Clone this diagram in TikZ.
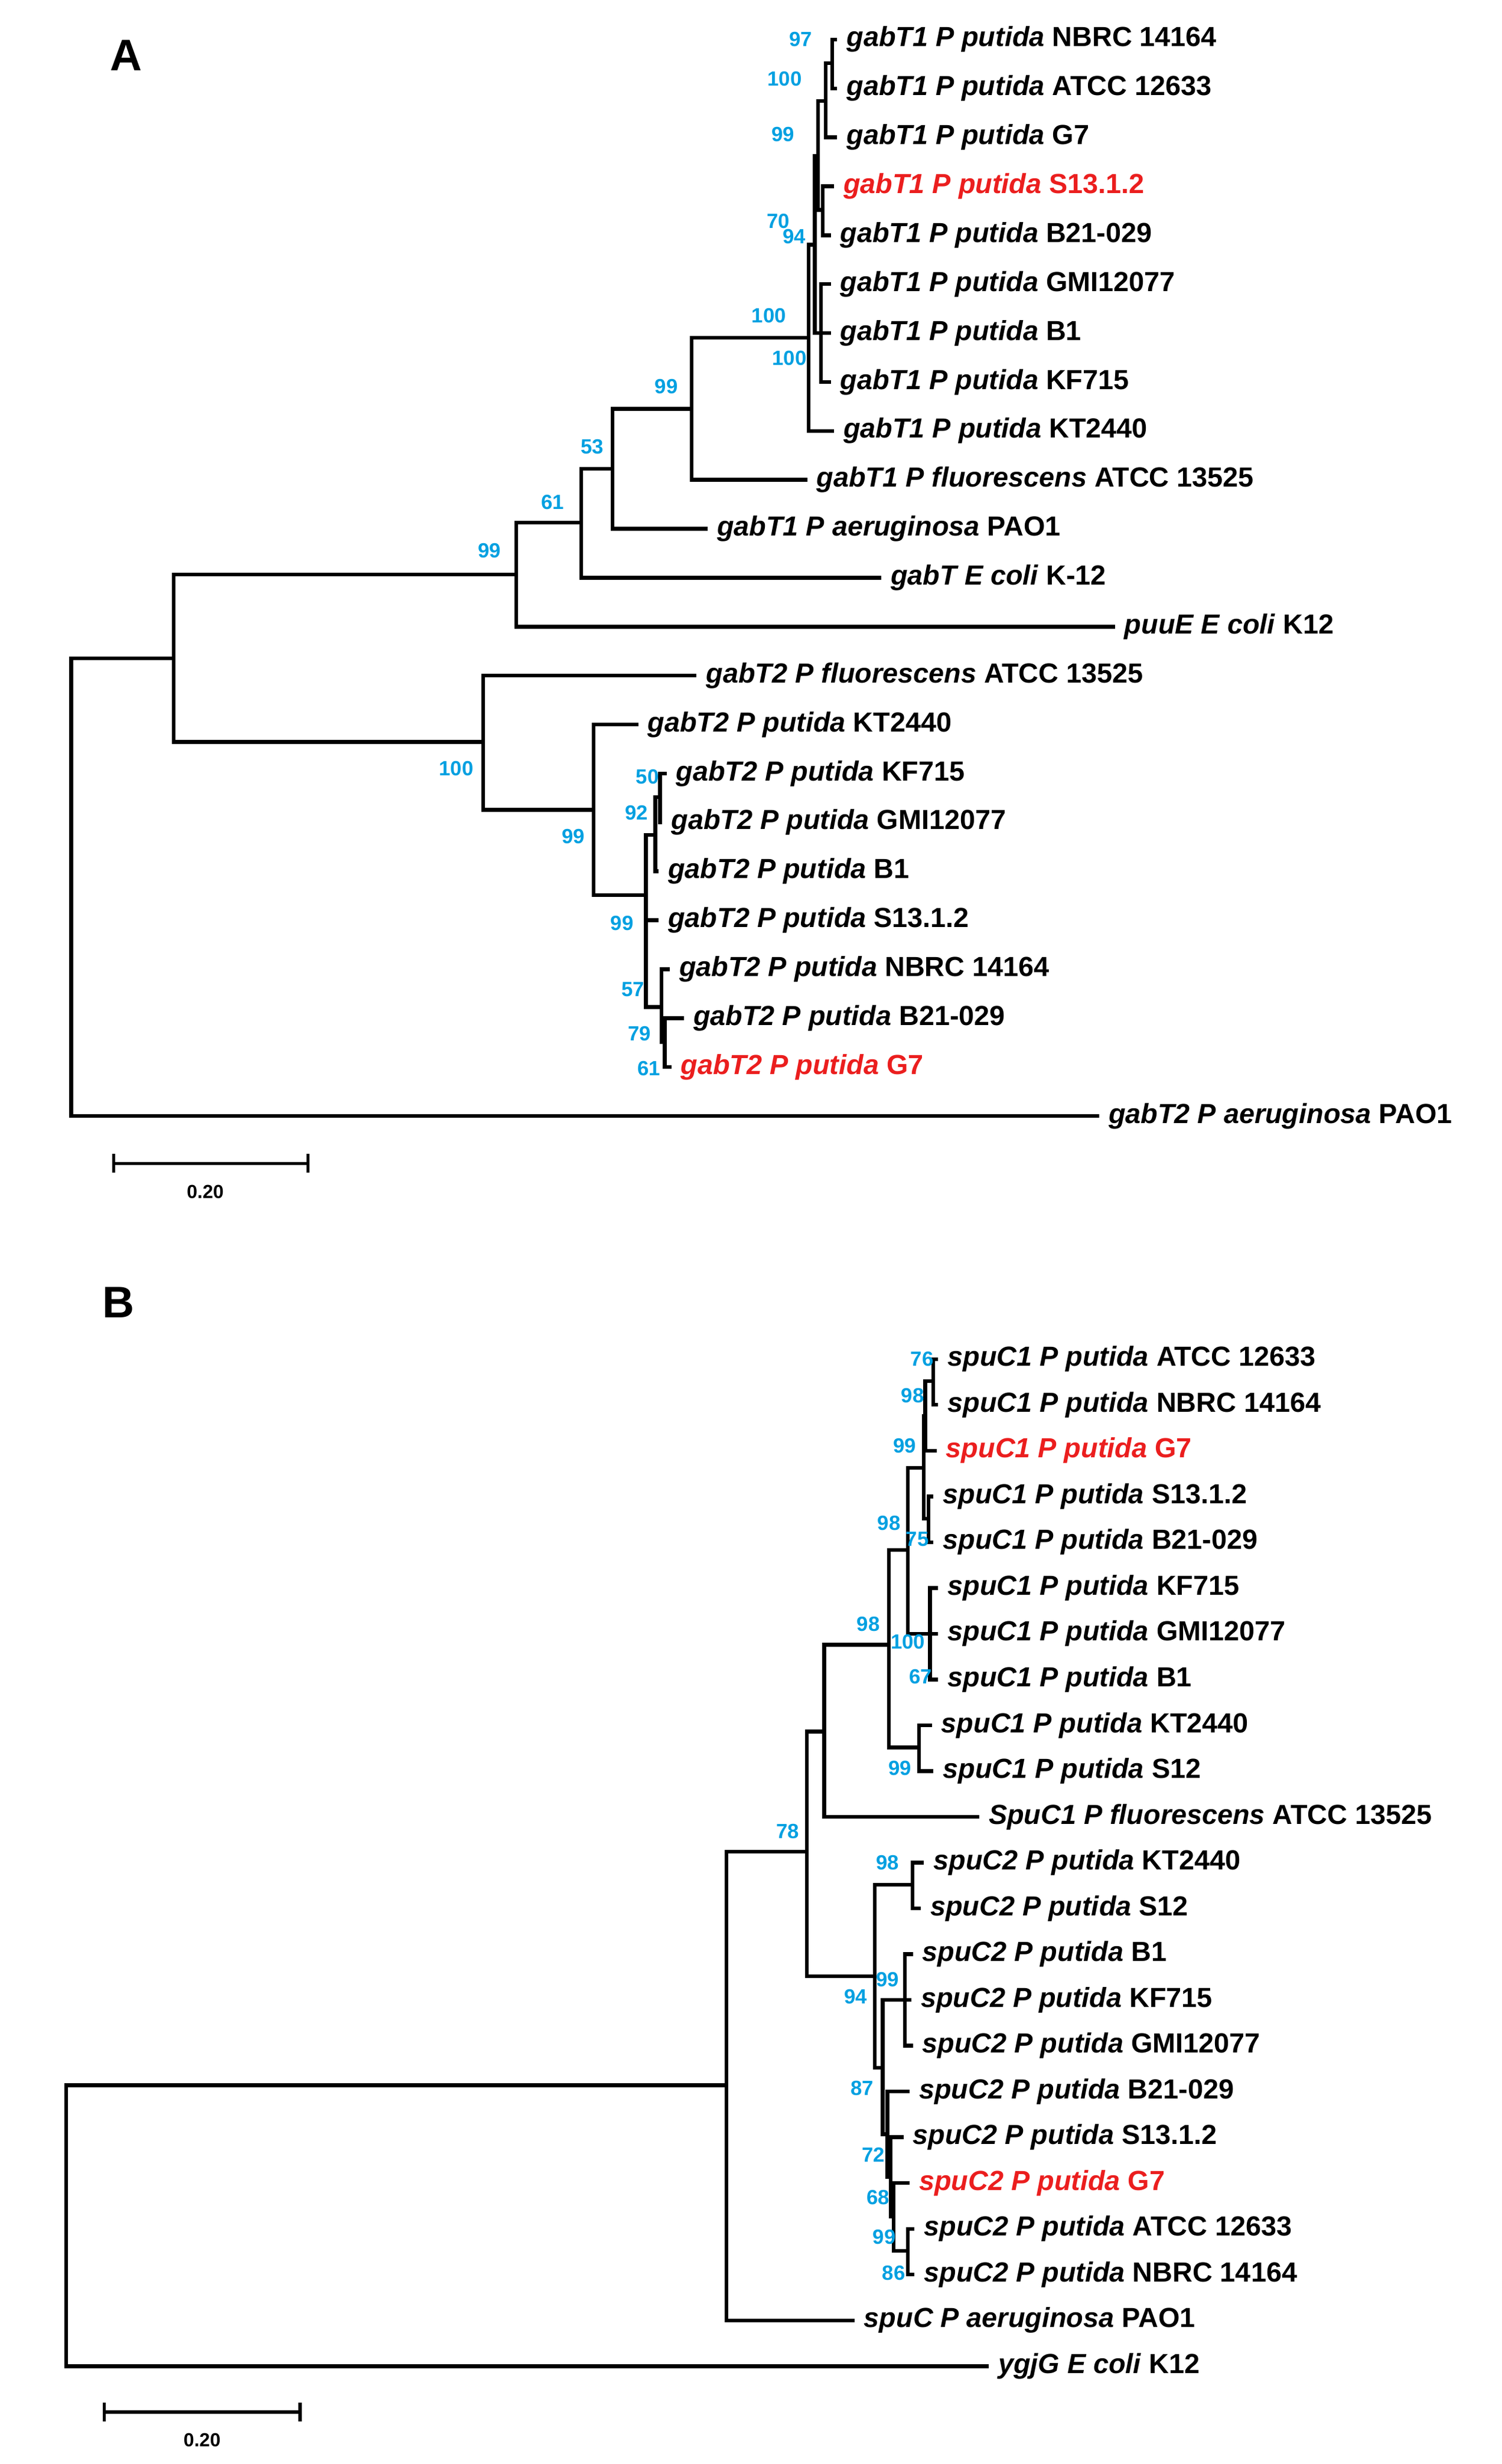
\documentclass[tikz,border=0pt]{standalone}
\usepackage{fontspec}
\usetikzlibrary{calc}
\setmainfont{Liberation Sans}
\definecolor{bscol}{RGB}{0,160,225}
\definecolor{redlab}{RGB}{235,30,30}
\tikzset{br/.style={line width=2.4pt,line cap=rect},
  lab/.style={font=\fontsize{17.5}{19}\selectfont\bfseries,inner sep=0pt,xshift=6pt},
  bs/.style={font=\fontsize{13}{14}\selectfont\bfseries,text=bscol,inner sep=0pt}}
\newcommand\tip[7]{\draw[br] (#2,#4) -- (#3,#4) node[lab,text=#5,anchor=west] (#1) {\textit{#6} #7};}
\begin{document}
\begin{tikzpicture}[x=1pt,y=-1pt]
\useasboundingbox[fill=white] (0,0) rectangle (951,1561);
\node[font=\fontsize{28}{30}\selectfont\bfseries] (pA) at (80,35) {A};
\node[font=\fontsize{28}{30}\selectfont\bfseries] (pB) at (75,825) {B};
% ---------- Tree A
\draw[br] (527,25)--(527,56);
\tip{a1}{527}{529}{25}{black}{gabT1 P putida}{NBRC 14164}
\tip{a2}{527}{529}{56}{black}{gabT1 P putida}{ATCC 12633}
\draw[br] (523,40)--(523,87) (523,40)--(527,40);
\tip{a3}{523}{529}{87}{black}{gabT1 P putida}{G7}
\draw[br] (521,118)--(521,149);
\tip{a4}{521}{527}{118}{redlab}{gabT1 P putida}{S13.1.2}
\tip{a5}{521}{525}{149}{black}{gabT1 P putida}{B21-029}
\draw[br] (518,64)--(518,133) (518,64)--(523,64) (518,133)--(521,133);
\draw[br] (520,180)--(520,242);
\tip{a6}{520}{525}{180}{black}{gabT1 P putida}{GMI12077}
\tip{a7}{520}{525}{211}{black}{gabT1 P putida}{B1}
\tip{a8}{520}{525}{242}{black}{gabT1 P putida}{KF715}
\draw[br] (516,99)--(516,211) (516,99)--(518,99) (516,211)--(520,211);
\draw[br] (512,155)--(512,273) (512,155)--(516,155);
\tip{a9}{512}{527}{273}{black}{gabT1 P putida}{KT2440}
\draw[br] (438,214)--(438,304) (438,214)--(512,214);
\tip{a10}{438}{510}{304}{black}{gabT1 P fluorescens}{ATCC 13525}
\draw[br] (388,259)--(388,335) (388,259)--(438,259);
\tip{a11}{388}{447}{335}{black}{gabT1 P aeruginosa}{PAO1}
\draw[br] (368,297)--(368,366) (368,297)--(388,297);
\tip{a12}{368}{557}{366}{black}{gabT E coli}{K-12}
\draw[br] (327,331)--(327,397) (327,331)--(368,331);
\tip{a13}{327}{705}{397}{black}{puuE E coli}{K12}
\draw[br] (110,364)--(110,470) (110,364)--(327,364) (110,470)--(306,470);
\draw[br] (45,417)--(45,707) (45,417)--(110,417);
\tip{a23}{45}{695}{707}{black}{gabT2 P aeruginosa}{PAO1}
\draw[br] (306,428)--(306,513) (306,513)--(376,513);
\tip{a14}{306}{440}{428}{black}{gabT2 P fluorescens}{ATCC 13525}
\draw[br] (376,459)--(376,567) (376,567)--(409,567);
\tip{a15}{376}{403}{459}{black}{gabT2 P putida}{KT2440}
\draw[br] (409,529)--(409,638) (409,529)--(415,529) (409,638)--(419,638);
\tip{a19}{409}{416}{583}{black}{gabT2 P putida}{S13.1.2}
\draw[br] (415,505)--(415,552) (415,505)--(418,505);
\tip{a18}{415}{416}{552}{black}{gabT2 P putida}{B1}
\draw[br] (418,490)--(418,521);
\tip{a16}{418}{421}{490}{black}{gabT2 P putida}{KF715}
\tip{a17}{418}{418}{521}{black}{gabT2 P putida}{GMI12077}
\draw[br] (419,614)--(419,660) (419,660)--(421,660);
\tip{a20}{419}{423}{614}{black}{gabT2 P putida}{NBRC 14164}
\draw[br] (421,645)--(421,676);
\tip{a21}{421}{432}{645}{black}{gabT2 P putida}{B21-029}
\tip{a22}{421}{424}{676}{redlab}{gabT2 P putida}{G7}
% bootstraps A
\node[bs] (ba1) at (507,25) {97};
\node[bs] (ba2) at (497,50) {100};
\node[bs] (ba3) at (496,85) {99};
\node[bs] (ba4) at (493,140) {70};
\node[bs] (ba5) at (503,150) {94};
\node[bs] (ba6) at (487,200) {100};
\node[bs] (ba7) at (500,227) {100};
\node[bs] (ba8) at (422,245) {99};
\node[bs] (ba9) at (375,283) {53};
\node[bs] (ba10) at (350,318) {61};
\node[bs] (ba11) at (310,349) {99};
\node[bs] (ba12) at (289,487) {100};
\node[bs] (ba13) at (363,530) {99};
\node[bs] (ba14) at (410,492) {50};
\node[bs] (ba15) at (403,515) {92};
\node[bs] (ba16) at (394,585) {99};
\node[bs] (ba17) at (401,627) {57};
\node[bs] (ba18) at (405,655) {79};
\node[bs] (ba19) at (411,677) {61};
% scale A
\coordinate (sa1) at (72,737); \coordinate (sa2) at (195,737);
\draw[line width=2pt] (sa1)--(sa2) ($(sa1)+(0,-6)$)--($(sa1)+(0,6)$) ($(sa2)+(0,-6)$)--($(sa2)+(0,6)$);
\node[font=\fontsize{12}{13}\selectfont\bfseries] (sla) at (130,755) {0.20};
% ---------- Tree B
\draw[br] (591,861)--(591,890);
\tip{b1}{591}{593}{861}{black}{spuC1 P putida}{ATCC 12633}
\tip{b2}{591}{593}{890}{black}{spuC1 P putida}{NBRC 14164}
\draw[br] (586,875)--(586,919) (586,875)--(591,875);
\tip{b3}{586}{592}{919}{redlab}{spuC1 P putida}{G7}
\draw[br] (588,948)--(588,977);
\tip{b4}{588}{590}{948}{black}{spuC1 P putida}{S13.1.2}
\tip{b5}{588}{590}{977}{black}{spuC1 P putida}{B21-029}
\draw[br] (585,897)--(585,962) (585,897)--(586,897) (585,962)--(588,962);
\draw[br] (589,1006)--(589,1064);
\tip{b6}{589}{593}{1006}{black}{spuC1 P putida}{KF715}
\tip{b7}{589}{593}{1035}{black}{spuC1 P putida}{GMI12077}
\tip{b8}{589}{593}{1064}{black}{spuC1 P putida}{B1}
\draw[br] (575,930)--(575,1035) (575,930)--(585,930) (575,1035)--(589,1035);
\draw[br] (582,1093)--(582,1122);
\tip{b9}{582}{589}{1093}{black}{spuC1 P putida}{KT2440}
\tip{b10}{582}{590}{1122}{black}{spuC1 P putida}{S12}
\draw[br] (563,982)--(563,1107) (563,982)--(575,982) (563,1107)--(582,1107);
\draw[br] (522,1042)--(522,1151) (522,1042)--(563,1042);
\tip{b11}{522}{619}{1151}{black}{SpuC1 P fluorescens}{ATCC 13525}
\draw[br] (511,1097)--(511,1252) (511,1097)--(522,1097) (511,1252)--(554,1252);
\draw[br] (578,1180)--(578,1209) (554,1194)--(578,1194);
\tip{b12}{578}{584}{1180}{black}{spuC2 P putida}{KT2440}
\tip{b13}{578}{582}{1209}{black}{spuC2 P putida}{S12}
\draw[br] (554,1194)--(554,1310) (554,1310)--(559,1310);
\draw[br] (559,1267)--(559,1352) (559,1267)--(573,1267) (559,1352)--(562,1352);
\draw[br] (573,1238)--(573,1296);
\tip{b14}{573}{577}{1238}{black}{spuC2 P putida}{B1}
\tip{b15}{573}{576}{1267}{black}{spuC2 P putida}{KF715}
\tip{b16}{573}{577}{1296}{black}{spuC2 P putida}{GMI12077}
\draw[br] (562,1325)--(562,1379) (562,1379)--(564,1379);
\tip{b17}{562}{575}{1325}{black}{spuC2 P putida}{B21-029}
\draw[br] (564,1354)--(564,1404) (564,1404)--(566,1404);
\tip{b18}{564}{571}{1354}{black}{spuC2 P putida}{S13.1.2}
\draw[br] (566,1383)--(566,1426) (566,1426)--(575,1426);
\tip{b19}{566}{575}{1383}{redlab}{spuC2 P putida}{G7}
\draw[br] (575,1412)--(575,1441);
\tip{b20}{575}{578}{1412}{black}{spuC2 P putida}{ATCC 12633}
\tip{b21}{575}{578}{1441}{black}{spuC2 P putida}{NBRC 14164}
\draw[br] (460,1173)--(460,1470) (460,1173)--(511,1173);
\tip{b22}{460}{540}{1470}{black}{spuC P aeruginosa}{PAO1}
\draw[br] (42,1321)--(42,1499) (42,1321)--(460,1321);
\tip{b23}{42}{625}{1499}{black}{ygjG E coli}{K12}
% bootstraps B
\node[bs] (bb1) at (584,861) {76};
\node[bs] (bb2) at (578,884) {98};
\node[bs] (bb3) at (573,916) {99};
\node[bs] (bb4) at (563,965) {98};
\node[bs] (bb5) at (581,975) {75};
\node[bs] (bb6) at (550,1029) {98};
\node[bs] (bb7) at (575,1040) {100};
\node[bs] (bb8) at (583,1062) {67};
\node[bs] (bb9) at (570,1120) {99};
\node[bs] (bb10) at (499,1160) {78};
\node[bs] (bb11) at (562,1180) {98};
\node[bs] (bb12) at (562,1254) {99};
\node[bs] (bb13) at (542,1265) {94};
\node[bs] (bb14) at (546,1323) {87};
\node[bs] (bb15) at (553,1365) {72};
\node[bs] (bb16) at (556,1392) {68};
\node[bs] (bb17) at (560,1417) {99};
\node[bs] (bb18) at (566,1440) {86};
% scale B
\coordinate (sb1) at (66,1528); \coordinate (sb2) at (190,1528);
\draw[line width=2pt] (sb1)--(sb2) ($(sb1)+(0,-6)$)--($(sb1)+(0,6)$) ($(sb2)+(0,-6)$)--($(sb2)+(0,6)$);
\node[font=\fontsize{12}{13}\selectfont\bfseries] (slb) at (128,1546) {0.20};
\end{tikzpicture}
\end{document}
